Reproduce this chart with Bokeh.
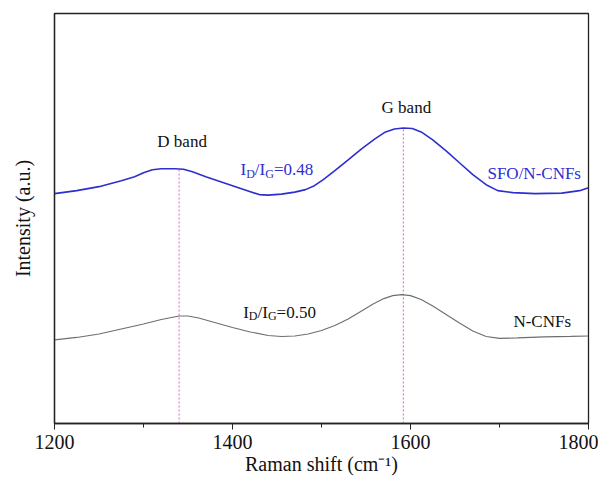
from bokeh.plotting import figure
from bokeh.models import Range1d, FixedTicker
from bokeh.core.properties import value
from bokeh.embed import file_html
from bokeh.resources import INLINE

# ---- data ----
shift_sfo = [1200, 1225, 1250, 1275, 1290, 1300, 1310, 1320, 1335, 1345, 1355, 1370,
             1390, 1410, 1430, 1440, 1455, 1470, 1482, 1492, 1502, 1515, 1530, 1545,
             1560, 1572, 1582, 1592, 1602, 1612, 1625, 1640, 1655, 1670, 1685, 1698,
             1715, 1740, 1770, 1790, 1800]
int_sfo = [235, 238, 242, 248, 252, 256, 259, 260, 260, 259.5, 257, 252,
           246, 240, 234, 233.5, 234.5, 236.5, 239, 243, 249, 258, 269, 280,
           290, 297, 300, 301, 300.5, 297, 289, 278, 266, 254, 244, 238,
           236, 235, 235.5, 238, 241]

shift_cnf = [1200, 1225, 1250, 1275, 1300, 1320, 1340, 1350, 1362, 1380, 1400, 1420,
             1440, 1455, 1470, 1485, 1500, 1515, 1530, 1545, 1558, 1570, 1580, 1590,
             1600, 1612, 1625, 1640, 1655, 1670, 1685, 1700, 1720, 1750, 1780, 1800]
int_cnf = [88, 90.5, 94, 99, 104, 108.5, 112, 112, 110, 105.5, 100.5, 96,
           92.5, 91.5, 92, 94, 97.5, 102.5, 109, 117, 124, 129.5, 132.5, 133.5,
           132.5, 128.5, 122, 113.5, 105, 97, 91.5, 89.5, 90, 91, 91.5, 92]

band_pos = [1340, 1592]
band_top = [260, 301]
band_names = ["D band", "G band"]
band_label_y = [287, 322]

x_ticks = [1200, 1400, 1600, 1800]
x_minor = [1300, 1500, 1700]
y_lo, y_hi = 4, 416

BLUE = "#2e2ecf"
GRAY = "#6e6e6e"
PINK = "#e07ae0"
FONT = "Liberation Serif"

p = figure(width=598, height=477, output_backend="svg", toolbar_location=None,
           x_range=Range1d(1200, 1800), y_range=Range1d(y_lo, y_hi),
           min_border_left=54, min_border_right=10, min_border_top=13,
           min_border_bottom=52)
p.background_fill_color = "white"
p.border_fill_color = "white"
p.grid.visible = False
p.outline_line_color = "#222222"
p.outline_line_width = 1.3

# x axis
xa = p.xaxis[0]
xa.ticker = FixedTicker(ticks=x_ticks, minor_ticks=x_minor)
xa.axis_label = "Raman shift (cm\u207b\u00b9)"
xa.axis_label_text_font = FONT
xa.axis_label_text_font_style = "normal"
xa.axis_label_text_font_size = "20px"
xa.axis_label_text_color = "#111111"
xa.axis_label_standoff = 1
xa.major_label_text_font = FONT
xa.major_label_text_font_size = "20px"
xa.major_label_text_color = "#111111"
xa.major_label_standoff = 5
xa.major_tick_in = 0
xa.major_tick_out = 6
xa.minor_tick_in = 0
xa.minor_tick_out = 4
xa.axis_line_color = "#222222"
xa.axis_line_width = 1.3
xa.major_tick_line_color = "#222222"
xa.minor_tick_line_color = "#222222"

# y axis
ya = p.yaxis[0]
ya.ticker = FixedTicker(ticks=[])
ya.axis_label = "Intensity (a.u.)"
ya.axis_label_text_font = FONT
ya.axis_label_text_font_style = "normal"
ya.axis_label_text_font_size = "20px"
ya.axis_label_text_color = "#111111"
ya.axis_label_standoff = 21
ya.major_tick_in = 0
ya.major_tick_out = 0
ya.minor_tick_in = 0
ya.minor_tick_out = 0
ya.axis_line_color = "#222222"
ya.axis_line_width = 1.3

# band marker lines
p.segment(x0=band_pos, y0=[y_lo, y_lo], x1=band_pos, y1=band_top,
          line_color=PINK, line_width=1.2, line_dash="2 2")

# spectra
p.line(shift_sfo, int_sfo, line_color=BLUE, line_width=1.6)
p.line(shift_cnf, int_cnf, line_color=GRAY, line_width=1.1)

# band labels
p.text(x=band_pos, y=band_label_y, text=band_names, text_font=value(FONT),
       text_font_size="17px", text_align="center", text_baseline="middle",
       text_color="#111111", x_offset=3)

# series labels
p.text(x=[1739], y=[255], text=["SFO/N-CNFs"], text_font=value(FONT),
       text_font_size="17px", text_align="center", text_baseline="middle",
       text_color=BLUE)
p.text(x=[1748], y=[107], text=["N-CNFs"], text_font=value(FONT),
       text_font_size="17px", text_align="center", text_baseline="middle",
       text_color="#111111")

EM = {"I": 0.333, "D": 0.722, "G": 0.722, "/": 0.278, "=": 0.564, ".": 0.25}


def text_width(s, size):
    return sum(EM.get(c, 0.5) for c in s) * size


def ratio_label(x, y, ratio, color):
    parts = [("I", False), ("D", True), ("/I", False), ("G", True), ("=" + ratio, False)]
    off = 0.0
    for txt, sub in parts:
        size = 12 if sub else 17
        p.text(x=[x], y=[y], text=[txt], text_font=value(FONT),
               text_font_size=f"{size}px", text_align="left",
               text_baseline="alphabetic", text_color=color,
               x_offset=off, y_offset=4 if sub else 0)
        off += text_width(txt, size)


ratio_label(1409, 259, "0.48", BLUE)
ratio_label(1412, 116, "0.50", "#111111")

open("out.html", "w").write(file_html(p, INLINE))
